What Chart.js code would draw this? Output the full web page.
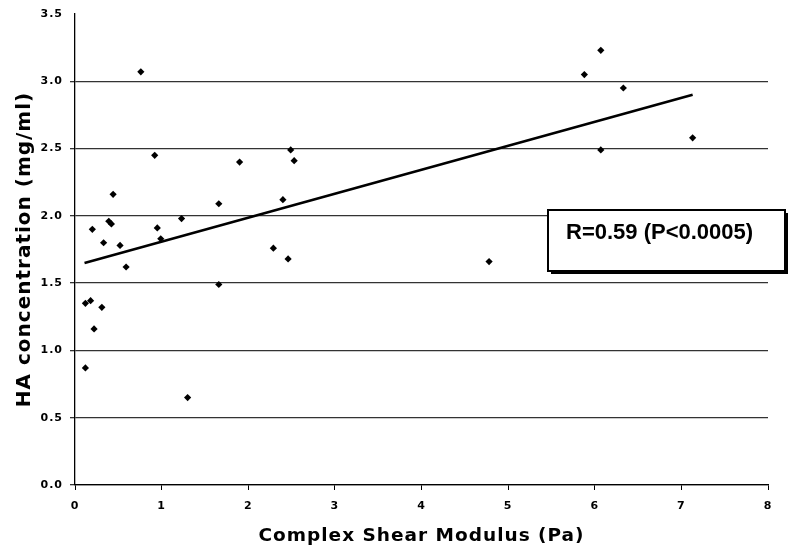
<!DOCTYPE html>
<html>
<head>
<meta charset="utf-8">
<script src="https://cdn.jsdelivr.net/npm/chart.js@4.4.1/dist/chart.umd.min.js"></script>
<style>
    html, body { margin: 0; padding: 0; background: #fff; }
    #wrap { width: 790px; height: 548px; }
</style>
</head>
<body>
<div id="wrap"><canvas id="scatter_chart" width="790" height="548"></canvas></div>
<script>
// values
var shearModulus = [0.12, 0.12, 0.18, 0.20, 0.22, 0.31, 0.33, 0.39, 0.42, 0.44, 0.52, 0.59, 0.76, 0.92, 0.95, 0.99,
    1.23, 1.30, 1.66, 1.66, 1.90, 2.29, 2.40, 2.46, 2.49, 2.53, 4.78, 5.88, 6.07, 6.07, 6.33, 7.13];
var haConc = [0.87, 1.35, 1.37, 1.90, 1.16, 1.32, 1.80, 1.96, 1.94, 2.16, 1.78, 1.62, 3.07, 2.45, 1.91, 1.83,
    1.98, 0.65, 1.49, 2.09, 2.40, 1.76, 2.12, 1.68, 2.49, 2.41, 1.66, 3.05, 3.23, 2.49, 2.95, 2.58];
var fitX = [0.11, 7.13];
var fitY = [1.65, 2.90];
var xRange = [0, 8];
var yRange = [0, 3.5];
var statText = 'R=0.59 (P<0.0005)';

function toPoints(xs, ys) {
    return xs.map(function (x, i) { return { x: x, y: ys[i] }; });
}

//Wider, Verdana-like spacing for axis text
var wideText = {
    id: 'wideText',
    beforeDraw: function (chart) {
        chart.ctx.letterSpacing = '1px';
    }
};

//Text box with the correlation
var statBox = {
    id: 'statBox',
    afterDraw: function (chart) {
        var ctx = chart.ctx;
        var a = chart.chartArea;
        var left = a.left + 473, top = a.top + 196, w = 237, h = 61;
        ctx.save();
        ctx.letterSpacing = '0px';
        ctx.fillStyle = '#000';
        ctx.fillRect(left + 3, top + 3, w, h);
        ctx.fillStyle = '#fff';
        ctx.fillRect(left, top, w, h);
        ctx.strokeStyle = '#000';
        ctx.lineWidth = 2;
        ctx.strokeRect(left, top, w, h);
        ctx.fillStyle = '#000';
        ctx.font = 'bold 22px "Liberation Sans", Arial, sans-serif';
        ctx.textBaseline = 'middle';
        ctx.fillText(statText, left + 18, top + 23);
        ctx.restore();
    }
};

function initScatterChart() {
    var config = {
        type: 'scatter',
        data: {
            datasets: [{
                label: 'HA',
                data: toPoints(shearModulus, haConc),
                pointStyle: 'rectRot',
                pointRadius: 3.6,
                backgroundColor: '#000',
                borderColor: '#000',
                borderWidth: 0
            }, {
                type: 'line',
                label: 'fit',
                data: toPoints(fitX, fitY),
                borderColor: '#000',
                borderWidth: 2.6,
                pointRadius: 0,
                fill: false
            }]
        },
        options: {
            responsive: false,
            animation: false,
            layout: { padding: { left: 0, right: 22, top: 14, bottom: 0 } },
            plugins: {
                legend: { display: false },
                tooltip: { enabled: false }
            },
            scales: {
                x: {
                    type: 'linear',
                    min: xRange[0],
                    max: xRange[1],
                    afterFit: function (s) { s.height = 63; },
                    ticks: {
                        stepSize: 1,
                        padding: 10,
                        color: '#000',
                        font: { family: '"DejaVu Sans", Verdana, sans-serif', size: 11, weight: 'bold' }
                    },
                    grid: { drawOnChartArea: false, tickLength: 5, color: '#000' },
                    border: { color: '#000', width: 1.3 },
                    title: {
                        display: true,
                        text: 'Complex Shear Modulus (Pa)',
                        color: '#000',
                        padding: { top: 2, bottom: 1 },
                        font: { family: '"DejaVu Sans", Verdana, sans-serif', size: 18.5, weight: 'bold' }
                    }
                },
                y: {
                    min: yRange[0],
                    max: yRange[1],
                    afterFit: function (s) { s.width = 75; },
                    ticks: {
                        stepSize: 0.5,
                        padding: 7,
                        color: '#000',
                        font: { family: '"DejaVu Sans", Verdana, sans-serif', size: 11, weight: 'bold' },
                        callback: function (v) { return v.toFixed(1); }
                    },
                    grid: {
                        tickLength: 5,
                        lineWidth: 1.3,
                        color: function (c) {
                            return c.tick && c.tick.value === yRange[1] ? 'rgba(0,0,0,0)' : '#333';
                        }
                    },
                    border: { color: '#000', width: 1.3 },
                    title: {
                        display: true,
                        text: 'HA concentration (mg/ml)',
                        color: '#000',
                        padding: { top: 13, bottom: 0 },
                        font: { family: '"DejaVu Sans", Verdana, sans-serif', size: 20, weight: 'bold' }
                    }
                }
            }
        },
        plugins: [wideText, statBox]
    };

    var chart = new Chart(document.getElementById('scatter_chart').getContext('2d'), config);
}

initScatterChart();
</script>
</body>
</html>
